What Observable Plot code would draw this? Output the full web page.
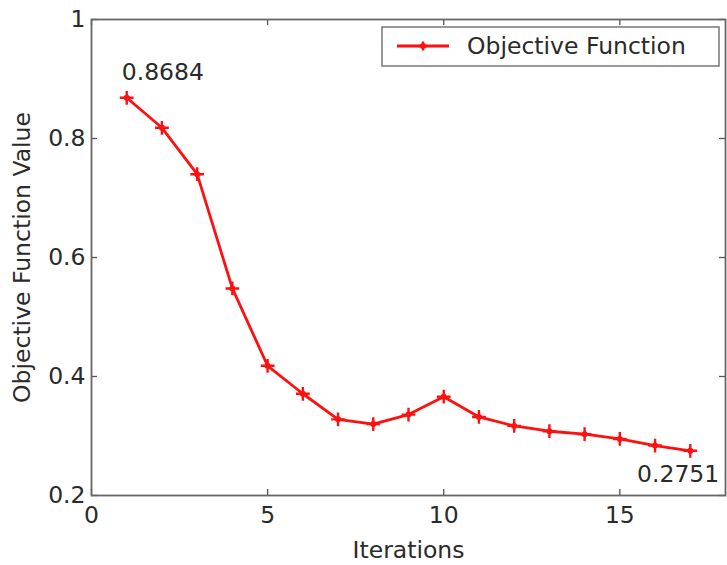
<!DOCTYPE html>
<html>
<head>
<meta charset="utf-8">
<script src="https://cdn.jsdelivr.net/npm/d3@7"></script>
<script src="https://cdn.jsdelivr.net/npm/@observablehq/plot@0.6"></script>
<style>
  html, body { margin: 0; padding: 0; background: #fff; }
  #chart { width: 727px; height: 565px; }
</style>
</head>
<body>
<div id="chart"></div>
<script>
// Objective function value at each optimisation iteration
const iterations = [1, 2, 3, 4, 5, 6, 7, 8, 9, 10, 11, 12, 13, 14, 15, 16, 17];
const objective = [0.8684, 0.818, 0.740, 0.548, 0.418, 0.371, 0.328, 0.320, 0.336,
                   0.366, 0.332, 0.317, 0.308, 0.303, 0.295, 0.284, 0.2751];
const xTicks = [0, 5, 10, 15];
const yTicks = [0.2, 0.4, 0.6, 0.8, 1];
const seriesName = "Objective Function";

const data = iterations.map((it, i) => ({iteration: it, value: objective[i]}));
const first = data[0];
const last = data[data.length - 1];

const W = 727, H = 565;
const mL = 91, mR = 2, mT = 19, mB = 70;
const innerH = H - mT - mB;
const innerW = W - mL - mR;
const tickLen = 6;
const red = "#ff1010";
const ink = "#2a2a2a";
const font = "DejaVu Sans, Liberation Sans, sans-serif";
const fs = 23.5;

const chart = Plot.plot({
  width: W,
  height: H,
  marginLeft: mL,
  marginRight: mR,
  marginTop: mT,
  marginBottom: mB,
  style: {fontFamily: font, fontSize: fs + "px", color: ink, background: "#fff"},
  x: {domain: [0, 18]},
  y: {domain: [0.2, 1]},
  marks: [
    // inward tick marks on all four sides
    Plot.tickX(xTicks, {x: d => d, insetTop: innerH - tickLen, stroke: "#555", strokeWidth: 1.3}),
    Plot.tickX(xTicks, {x: d => d, insetBottom: innerH - tickLen, stroke: "#555", strokeWidth: 1.3}),
    Plot.tickY(yTicks, {y: d => d, insetRight: innerW - tickLen, stroke: "#555", strokeWidth: 1.3}),
    Plot.tickY(yTicks, {y: d => d, insetLeft: innerW - tickLen, stroke: "#555", strokeWidth: 1.3}),
    Plot.frame({stroke: "#666", strokeWidth: 1.8}),
    Plot.axisX({
      ticks: xTicks, tickSize: 0, tickPadding: 11, tickFormat: d => String(d),
      label: "Iterations", labelAnchor: "center", labelArrow: "none", labelOffset: 62,
      fontSize: fs
    }),
    Plot.axisY({
      ticks: yTicks, tickSize: 0, tickPadding: 6, tickFormat: d => String(d),
      label: "Objective Function Value", labelAnchor: "center", labelArrow: "none", labelOffset: 78,
      fontSize: fs
    }),
    Plot.line(data, {x: "iteration", y: "value", stroke: red, strokeWidth: 2.8}),
    Plot.dot(data, {x: "iteration", y: "value", symbol: "plus", r: 4.5, stroke: red, strokeWidth: 2.4}),
    Plot.dot(data, {x: "iteration", y: "value", r: 3, fill: red}),
    Plot.text([first], {
      x: "iteration", y: "value", text: d => d.value.toFixed(4),
      textAnchor: "start", dx: -5, dy: -25, fill: ink, fontSize: fs
    }),
    Plot.text([last], {
      x: "iteration", y: "value", text: d => d.value.toFixed(4),
      textAnchor: "end", dx: 29, dy: 24, fill: ink, fontSize: fs
    })
  ]
});

// legend box in the upper-right corner of the axes
const svg = d3.select(chart);
const lg = svg.append("g").attr("font-family", font).attr("font-size", fs);
lg.append("rect")
  .attr("x", 382).attr("y", 27).attr("width", 337).attr("height", 39)
  .attr("fill", "#fff").attr("stroke", "#777").attr("stroke-width", 1.5);
lg.append("line")
  .attr("x1", 397).attr("x2", 449).attr("y1", 46).attr("y2", 46)
  .attr("stroke", red).attr("stroke-width", 2.8);
lg.append("path")
  .attr("d", "M418.5,46h9M423,41.5v9")
  .attr("stroke", red).attr("stroke-width", 2.4);
lg.append("circle").attr("cx", 423).attr("cy", 46).attr("r", 3).attr("fill", red);
lg.append("text")
  .attr("x", 467).attr("y", 46).attr("dy", "0.35em")
  .attr("text-anchor", "start")
  .attr("fill", ink).text(seriesName);

document.getElementById("chart").appendChild(chart);
</script>
</body>
</html>
